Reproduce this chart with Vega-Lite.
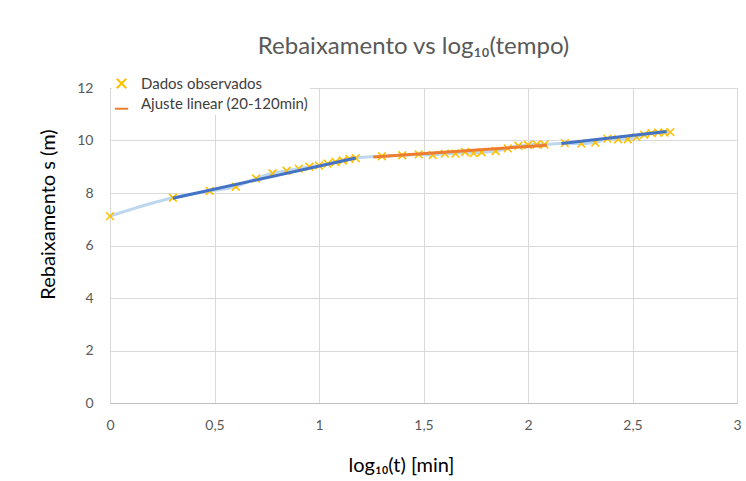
{
  "$schema": "https://vega.github.io/schema/vega-lite/v6.json",
  "width": 627,
  "height": 315,
  "autosize": {"type": "none"},
  "padding": {"left": 110, "top": 88, "right": 9, "bottom": 78},
  "background": "white",
  "config": {"font": "Lato", "view": {"stroke": null}},
  "title": {"text": "Rebaixamento vs log₁₀(tempo)", "fontSize": 24, "fontWeight": "normal", "color": "#595959", "offset": 15, "dx": -10},
  "datasets": {
    "obs": [
      {"t": 1, "log_t": 0.0, "s": 7.12, "serie": "Dados observados"},
      {"t": 2, "log_t": 0.301, "s": 7.82, "serie": "Dados observados"},
      {"t": 3, "log_t": 0.477, "s": 8.08, "serie": "Dados observados"},
      {"t": 4, "log_t": 0.602, "s": 8.24, "serie": "Dados observados"},
      {"t": 5, "log_t": 0.699, "s": 8.55, "serie": "Dados observados"},
      {"t": 6, "log_t": 0.778, "s": 8.75, "serie": "Dados observados"},
      {"t": 7, "log_t": 0.845, "s": 8.85, "serie": "Dados observados"},
      {"t": 8, "log_t": 0.903, "s": 8.93, "serie": "Dados observados"},
      {"t": 9, "log_t": 0.954, "s": 9.0, "serie": "Dados observados"},
      {"t": 10, "log_t": 1.0, "s": 9.05, "serie": "Dados observados"},
      {"t": 11, "log_t": 1.041, "s": 9.12, "serie": "Dados observados"},
      {"t": 12, "log_t": 1.079, "s": 9.18, "serie": "Dados observados"},
      {"t": 13, "log_t": 1.114, "s": 9.24, "serie": "Dados observados"},
      {"t": 14, "log_t": 1.146, "s": 9.3, "serie": "Dados observados"},
      {"t": 15, "log_t": 1.176, "s": 9.33, "serie": "Dados observados"},
      {"t": 20, "log_t": 1.301, "s": 9.4, "serie": "Dados observados"},
      {"t": 25, "log_t": 1.398, "s": 9.44, "serie": "Dados observados"},
      {"t": 30, "log_t": 1.477, "s": 9.47, "serie": "Dados observados"},
      {"t": 35, "log_t": 1.544, "s": 9.45, "serie": "Dados observados"},
      {"t": 40, "log_t": 1.602, "s": 9.5, "serie": "Dados observados"},
      {"t": 45, "log_t": 1.653, "s": 9.5, "serie": "Dados observados"},
      {"t": 50, "log_t": 1.699, "s": 9.56, "serie": "Dados observados"},
      {"t": 55, "log_t": 1.74, "s": 9.52, "serie": "Dados observados"},
      {"t": 60, "log_t": 1.778, "s": 9.55, "serie": "Dados observados"},
      {"t": 70, "log_t": 1.845, "s": 9.6, "serie": "Dados observados"},
      {"t": 80, "log_t": 1.903, "s": 9.7, "serie": "Dados observados"},
      {"t": 90, "log_t": 1.954, "s": 9.8, "serie": "Dados observados"},
      {"t": 100, "log_t": 2.0, "s": 9.83, "serie": "Dados observados"},
      {"t": 110, "log_t": 2.041, "s": 9.85, "serie": "Dados observados"},
      {"t": 120, "log_t": 2.079, "s": 9.85, "serie": "Dados observados"},
      {"t": 150, "log_t": 2.176, "s": 9.9, "serie": "Dados observados"},
      {"t": 180, "log_t": 2.255, "s": 9.88, "serie": "Dados observados"},
      {"t": 210, "log_t": 2.322, "s": 9.92, "serie": "Dados observados"},
      {"t": 240, "log_t": 2.38, "s": 10.07, "serie": "Dados observados"},
      {"t": 270, "log_t": 2.431, "s": 10.05, "serie": "Dados observados"},
      {"t": 300, "log_t": 2.477, "s": 10.05, "serie": "Dados observados"},
      {"t": 330, "log_t": 2.519, "s": 10.13, "serie": "Dados observados"},
      {"t": 360, "log_t": 2.556, "s": 10.22, "serie": "Dados observados"},
      {"t": 390, "log_t": 2.591, "s": 10.28, "serie": "Dados observados"},
      {"t": 420, "log_t": 2.623, "s": 10.3, "serie": "Dados observados"},
      {"t": 450, "log_t": 2.653, "s": 10.3, "serie": "Dados observados"},
      {"t": 480, "log_t": 2.681, "s": 10.32, "serie": "Dados observados"}
    ],
    "blue_fit": [
      {"segment": "inicio", "log_t": 0.301, "s": 7.8},
      {"segment": "inicio", "log_t": 1.176, "s": 9.33},
      {"segment": "fim", "log_t": 2.16, "s": 9.89},
      {"segment": "fim", "log_t": 2.663, "s": 10.34}
    ],
    "orange_fit": [
      {"serie": "Ajuste linear (20-120min)", "log_t": 1.26, "s": 9.37},
      {"serie": "Ajuste linear (20-120min)", "log_t": 2.09, "s": 9.82}
    ]
  },
  "layer": [
    {
      "data": {"name": "obs"},
      "mark": {"type": "line", "interpolate": "monotone", "color": "#bdd7ee", "strokeWidth": 3},
      "encoding": {
        "x": {
          "field": "log_t", "type": "quantitative",
          "scale": {"domain": [0, 3], "nice": false, "zero": false},
          "axis": {
            "values": [0, 0.5, 1, 1.5, 2, 2.5, 3],
            "labelExpr": "replace(format(datum.value, '~g'), '.', ',')",
            "title": "log₁₀(t) [min]",
            "titleFontSize": 20, "titleFontWeight": "normal", "titleColor": "#000000",
            "titleX": 291, "titleY": 62, "titleBaseline": "middle",
            "labelFontSize": 14, "labelColor": "#595959", "labelPadding": 15,
            "ticks": false, "gridColor": "#d9d9d9", "domainColor": "#bfbfbf", "labelFlush": false
          }
        },
        "y": {
          "field": "s", "type": "quantitative",
          "scale": {"domain": [0, 12], "nice": false},
          "axis": {
            "values": [0, 2, 4, 6, 8, 10, 12],
            "title": "Rebaixamento s (m)",
            "titleFontSize": 20, "titleFontWeight": "normal", "titleColor": "#000000",
            "titleX": -62, "titleY": 126, "titleAngle": -90, "titleBaseline": "middle", "titleAlign": "center",
            "labelFontSize": 14, "labelColor": "#595959", "labelPadding": 17,
            "ticks": false, "domain": false, "gridColor": "#d9d9d9"
          }
        }
      }
    },
    {
      "data": {"name": "obs"},
      "mark": {"type": "point", "filled": false, "strokeWidth": 1.6, "size": 60, "opacity": 1},
      "encoding": {
        "x": {"field": "log_t", "type": "quantitative"},
        "y": {"field": "s", "type": "quantitative"},
        "color": {
          "field": "serie", "type": "nominal",
          "scale": {"domain": ["Dados observados", "Ajuste linear (20-120min)"], "range": ["#ffc000", "#ed7d31"]},
          "legend": {
            "title": null, "orient": "none", "legendX": 2, "legendY": -14,
            "labelFontSize": 15, "labelColor": "#404040", "labelOffset": 12, "labelLimit": 400,
            "symbolStrokeWidth": 2, "symbolSize": 90, "rowPadding": 3,
            "fillColor": "white", "padding": 2
          }
        },
        "shape": {
          "field": "serie", "type": "nominal",
          "scale": {"domain": ["Dados observados", "Ajuste linear (20-120min)"], "range": ["M-1,-1L1,1M-1,1L1,-1", "M-1.4,1.1L1.4,1.1"]},
          "legend": {
            "title": null, "orient": "none", "legendX": 2, "legendY": -14,
            "labelFontSize": 15, "labelColor": "#404040", "labelOffset": 12, "labelLimit": 400,
            "symbolStrokeWidth": 2, "symbolSize": 90, "rowPadding": 3,
            "fillColor": "white", "padding": 2
          }
        }
      }
    },
    {
      "data": {"name": "blue_fit"},
      "mark": {"type": "line", "color": "#4472c4", "strokeWidth": 3},
      "encoding": {
        "x": {"field": "log_t", "type": "quantitative"},
        "y": {"field": "s", "type": "quantitative"},
        "detail": {"field": "segment", "type": "nominal"}
      }
    },
    {
      "data": {"name": "orange_fit"},
      "mark": {"type": "line", "strokeWidth": 3},
      "encoding": {
        "x": {"field": "log_t", "type": "quantitative"},
        "y": {"field": "s", "type": "quantitative"},
        "color": {"field": "serie", "type": "nominal"}
      }
    }
  ]
}
